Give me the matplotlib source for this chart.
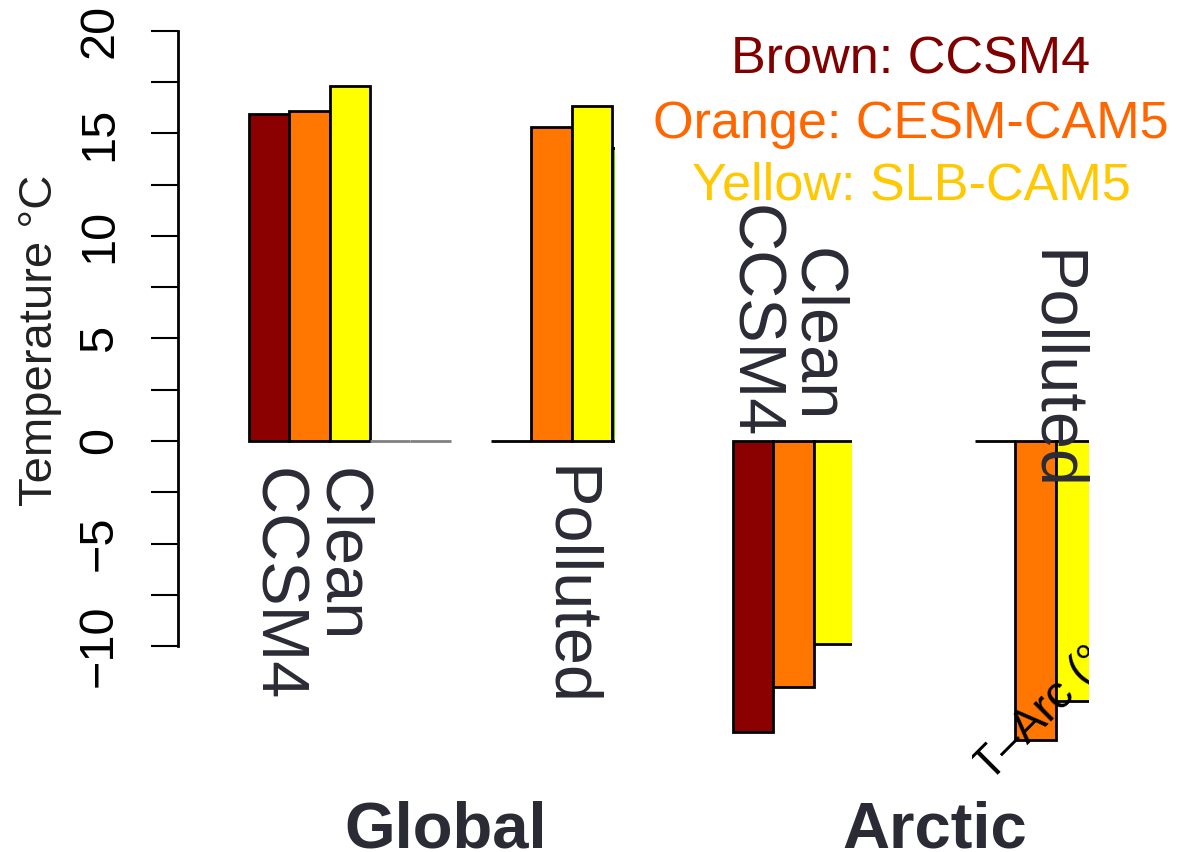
import numpy as np
import matplotlib
matplotlib.use("Agg")
import matplotlib.pyplot as plt
from matplotlib.transforms import Affine2D

plt.rcParams['font.family'] = ['Liberation Sans', 'DejaVu Sans']

# 柱状图数据（温度，°C）
bar_colors = ['#8B0000', '#FF7700', '#FFFF00', '#66CC00', '#66CC00']
global_clean = [15.95, 16.1, 17.3, 0, 0]
global_polluted = [0, 15.3, 16.35, 14.3]
arctic_clean = [-14.2, -12.0, -9.9]
arctic_polluted = [0, -14.6, -12.7]

legend_lines = ['Brown: CCSM4', 'Orange: CESM-CAM5', 'Yellow: SLB-CAM5']
legend_colors = ['#800000', '#FF6600', '#FFC800']

W, H = 1178, 852
X0, SLOT = 249.0, 40.33      # 第一根柱子左边缘、单根柱宽（像素）
Y0, UNIT = 441.0, 20.5       # 零线位置、每摄氏度像素
TXT = '#2b2b36'

fig = plt.figure(figsize=(W / 100, H / 100), dpi=100)
px = Affine2D().scale(1 / W, -1 / H).translate(0, 1) + fig.transFigure


def panel(x0, y0, x1, y1):
    ax = fig.add_axes([x0 / W, 1 - y1 / H, (x1 - x0) / W, (y1 - y0) / H])
    ax.set_xlim((x0 - X0) / SLOT, (x1 - X0) / SLOT)
    ax.set_ylim((Y0 - y1) / UNIT, (Y0 - y0) / UNIT)
    ax.patch.set_alpha(0)
    for s in ax.spines.values():
        s.set_visible(False)
    ax.set_xticks([])
    ax.set_yticks([])
    return ax


def bars(ax, start, values, zero_edge='black'):
    slots = start + np.arange(len(values)) + 0.5
    rects = ax.bar(slots, values, width=1.0, color=bar_colors[:len(values)],
                   edgecolor='black', linewidth=2.0)
    for r, v in zip(rects, values):
        if v == 0:
            r.set_edgecolor(zero_edge)
    return rects


# Global：带 y 轴的面板，右侧被裁掉
ax_g = panel(178, 31, 615, 646)
ax_g.set_ylim(-10, 20)
bars(ax_g, 0, global_clean, zero_edge='#808080')
bars(ax_g, 6, global_polluted)
ax_g.spines['left'].set_visible(True)
ax_g.spines['left'].set_linewidth(2)
ax_g.set_yticks(np.arange(-10, 21, 5))
ax_g.set_yticks(np.arange(-7.5, 20, 5), minor=True)
ax_g.set_yticklabels([f'{v}'.replace('-', '\u2212') for v in range(-10, 21, 5)],
                     rotation=90, va='center', ha='center', fontsize=35)
ax_g.tick_params(axis='y', which='both', length=19.5, width=1.5, pad=37)

# Arctic：两块裁剪后的面板
ax_ac = panel(730, 436, 852, 760)
bars(ax_ac, 12, arctic_clean)
ax_ap = panel(972, 436, 1089, 790)
bars(ax_ap, 18, arctic_polluted)
ax_ap.text(990, 783, 'T\u2013Arc (\u00b0C)', transform=px, rotation=45,
           rotation_mode='anchor', ha='left', va='baseline', fontsize=33,
           color='black', clip_on=True, zorder=5)

fig.text(40, 340, 'Temperature \u00b0C', transform=px, rotation=90,
         ha='center', va='center', fontsize=34, color='#222222')

# 竖排标签
labels = [('CCSM4', 275, 585), ('Clean', 340, 555), ('Polluted', 567, 587),
          ('CCSM4', 752, 322), ('Clean', 815, 335), ('Polluted', 1053, 370)]
for s, x, y in labels:
    fig.text(x, y, s, transform=px, rotation=270, ha='center', va='center',
             fontsize=48, color=TXT, zorder=6)

for s, x in [('Global', 446), ('Arctic', 935)]:
    fig.text(x, 847, s, transform=px, ha='center', va='baseline',
             fontsize=47, fontweight='bold', color=TXT)

for s, c, y in zip(legend_lines, legend_colors, [73, 138, 200]):
    fig.text(911, y, s, transform=px, ha='center', va='baseline',
             fontsize=37.5, color=c)

fig.savefig('out.png', dpi=100)
